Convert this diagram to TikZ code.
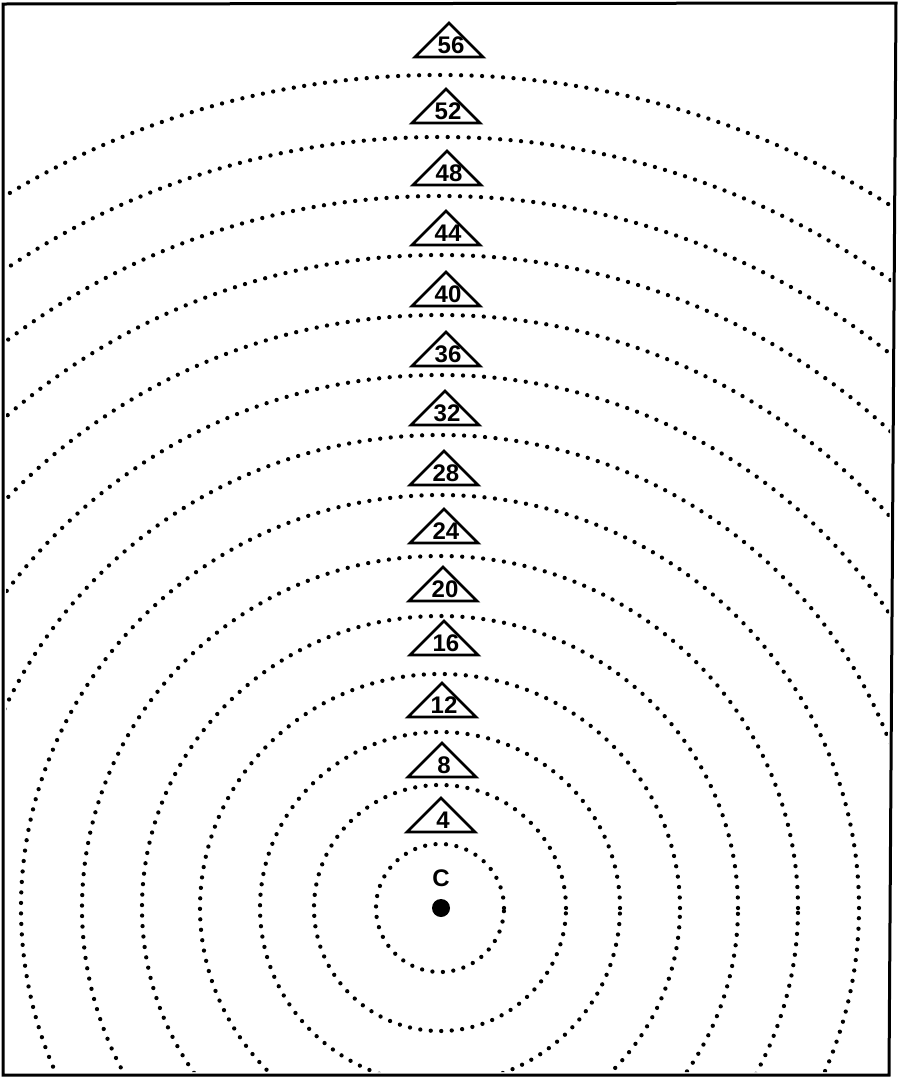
\documentclass[tikz,border=0pt]{standalone}
\usepackage{fontspec}
\setsansfont{Liberation Sans}
\begin{document}
\begin{tikzpicture}[x=1pt,y=-1pt]
\tikzset{
  frame/.style={line width=3pt, line join=miter},
  ring/.style={line width=4.3pt, line cap=round, dash pattern=on 0pt off 10.5pt},
  tri/.style={line width=2.8pt, line join=miter},
  lbl/.style={font=\fontsize{24}{24}\selectfont\bfseries\sffamily, inner sep=0pt},
  dotnode/.style={circle, fill=black, minimum size=18pt, inner sep=0pt}
}
\useasboundingbox (0,0) rectangle (904,1077);
\draw[frame] (3,4) -- (896,3) -- (889,1075) -- (3,1075) -- cycle;
\begin{scope}
  \clip (6,7) -- (893,6) -- (886,1072) -- (6,1072) -- cycle;
  \foreach \ry/\rx in {64/64,123/126,176/180,234/240,292/298,352/358,413/419,473/480,533/539,593/599,653/659,712/717,771/776,833/838}
    \draw[ring] (440,908) ellipse [x radius=\rx pt, y radius=\ry pt];
\end{scope}
\foreach \n/\x/\y in {56/449/57,52/446/123,48/447/185,44/446/245,40/446/306,36/446/366,32/445/425,28/444/485,24/444/543,20/443/601,16/444/655,12/442/717,8/442/777,4/441/832}{
  \draw[tri] (\x-34,\y) -- (\x,\y-34) -- (\x+34,\y) -- cycle;
  \node[lbl] (t\n) at (\x+2,\y-11.5) {\n};
}
\node[dotnode] (centre) at (441,908) {};
\node[lbl] (clabel) at (441,878) {C};
\end{tikzpicture}
\end{document}
